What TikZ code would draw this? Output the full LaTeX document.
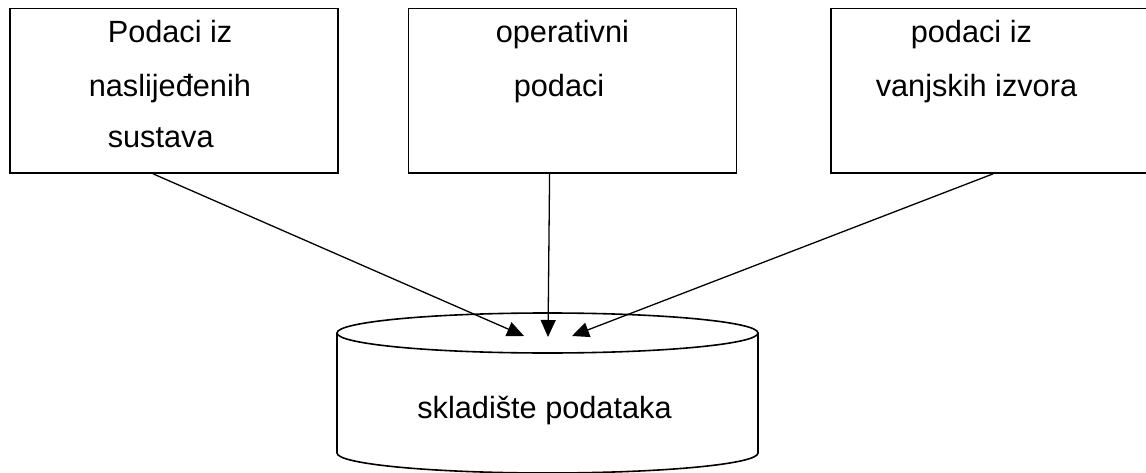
\documentclass[tikz,border=0pt]{standalone}
\usepackage{fontspec}
\setmainfont{Liberation Sans}
\usetikzlibrary{
  arrows.meta,
  positioning,  % Function "of" (e.g. [right=of x])
  calc,         % Calculations $...$
}
\def\myboxw{328pt}
\def\myboxh{164.5pt}
\def\myrx{210.5pt}
\def\myry{20pt}
\tikzset{
  font=\fontsize{30.7}{52}\selectfont,
  >={Triangle[length=17pt,width=15pt]},
  my box/.style={
    draw,
    rectangle,
    minimum width=\myboxw,
    minimum height=\myboxh,
    inner sep=0mm
  },
  my line/.style={
    anchor=base west,
    inner sep=0mm
  },
  my flow/.style={
    ->,
    line width=1.3pt
  }
}

\begin{document}
\begin{tikzpicture}[x=1pt,y=1pt,line width=1.6pt]
\clip (0,0) rectangle (1146,472);
% source boxes
\node[my box] (legacy)                    at (174,381.25) {};
\node[my box] (oper)   [right=69pt of legacy] {};
\node[my box] (extern) [right=93pt of oper]   {};
\node[my line] (legacy1) at (107,429) {Podaci iz};
\node[my line] (legacy2) at (88,375)  {naslijeđenih};
\node[my line] (legacy3) at (107,324) {sustava};
\node[my line] (oper1)   at (495,429) {operativni};
\node[my line] (oper2)   at (513,375) {podaci};
\node[my line] (extern1) at (910,429) {podaci iz};
\node[my line] (extern2) at (875,375) {vanjskih izvora};
% data warehouse
\coordinate (top) at (547.5,139);
\coordinate (bot) at (547.5,19);
\draw (top) ellipse [x radius=\myrx, y radius=\myry];
\draw ($(top)+(-210.5,0)$) -- ($(bot)+(-210.5,0)$)
      arc [start angle=180, end angle=360, x radius=\myrx, y radius=\myry]
      -- ($(top)+(210.5,0)$);
\node[inner sep=0mm,anchor=base] (dw) at (544.5,54) {skladište podataka};
\coordinate (in1) at (524,136);
\coordinate (in2) at (548,135);
\coordinate (in3) at (572,136);
\draw[my flow] ([xshift=-21pt]legacy.south) -- (in1);
\draw[my flow] ([xshift=-23pt]oper.south)   -- (in2);
\draw[my flow] ([xshift=-2pt]extern.south)  -- (in3);
\end{tikzpicture}
\end{document}
